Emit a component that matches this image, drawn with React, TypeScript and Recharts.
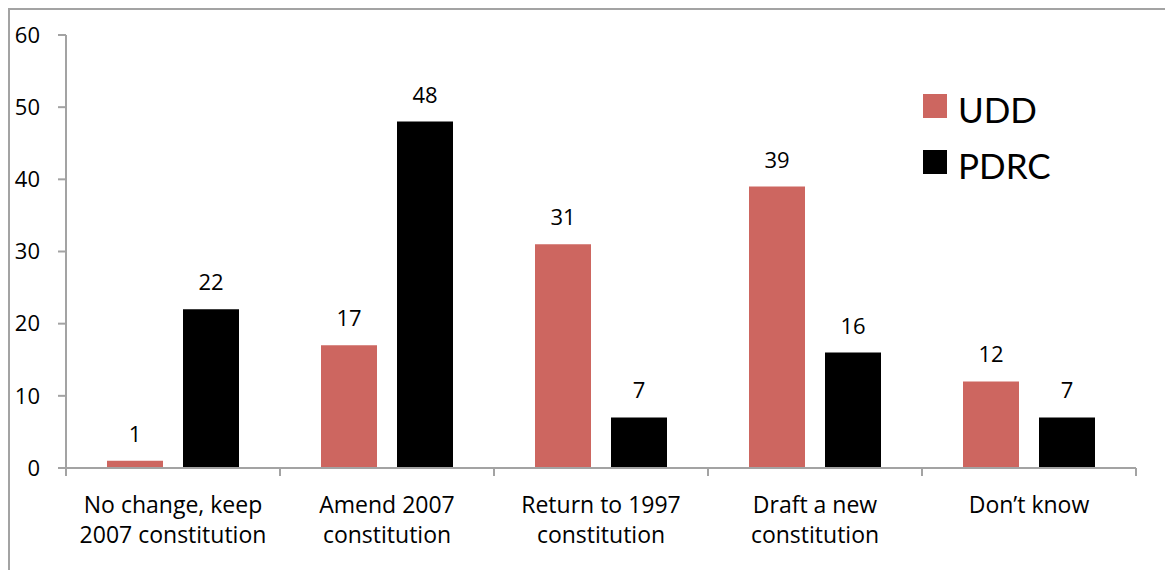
import { BarChart, Bar, XAxis, YAxis, LabelList } from 'recharts'

const categories = [
  'No change, keep\n2007 constitution',
  'Amend 2007\nconstitution',
  'Return to 1997\nconstitution',
  'Draft a new\nconstitution',
  'Don\u2019t know',
]
const udd = [1, 17, 31, 39, 12]
const pdrc = [22, 48, 7, 16, 7]
const yTicks = [0, 10, 20, 30, 40, 50, 60]

const data = categories.map((name, i) => ({ name, udd: udd[i], pdrc: pdrc[i] }))

const W = 1165
const H = 570
const X_H = 102
const Y_W = 66
const margin = { top: 35, right: 29, bottom: 0, left: 0 }
const PLOT_W = W - margin.left - margin.right - Y_W
const BAND = PLOT_W / categories.length
const AXIS = '#a3a3a3'
const FONT = '"Open Sans", "Noto Sans", sans-serif'
const RED = '#cd6660'

// tick y comes in below the axis by tickSize + tickMargin (6 + 2)
function CategoryTick(props: any) {
  const { x, y, payload, index } = props
  const axisY = y - 8
  const lines = String(payload.value).split('\n')
  const half = BAND / 2
  return (
    <g>
      <line x1={x - half} y1={axisY} x2={x - half} y2={axisY + 8} stroke={AXIS} strokeWidth={2} />
      {index === categories.length - 1 && (
        <line x1={x + half} y1={axisY} x2={x + half} y2={axisY + 8} stroke={AXIS} strokeWidth={2} />
      )}
      <text x={x} y={axisY + 45} textAnchor="middle" fill="#000" fontSize={23} fontFamily={FONT}>
        {lines.map((l, i) => (
          <tspan key={i} x={x} dy={i === 0 ? 0 : 30}>{l}</tspan>
        ))}
      </text>
    </g>
  )
}

export default function App() {
  return (
    <div style={{ position: 'absolute', left: 0, top: 0, width: W, height: H, background: '#fff' }}>
      <div style={{ position: 'absolute', left: 8, top: 8, right: 0, bottom: 0, borderLeft: `2px solid ${AXIS}`, borderTop: `2px solid ${AXIS}` }} />
      <BarChart width={W} height={H} data={data} margin={margin} barSize={56} barGap={20}>
        <XAxis
          dataKey="name"
          interval={0}
          tickLine={false}
          axisLine={{ stroke: AXIS, strokeWidth: 2 }}
          tick={<CategoryTick />}
          height={X_H}
        />
        <YAxis
          width={Y_W}
          domain={[0, 60]}
          ticks={yTicks}
          interval={0}
          tickSize={8}
          tickMargin={18}
          axisLine={{ stroke: AXIS, strokeWidth: 2 }}
          tickLine={{ stroke: AXIS, strokeWidth: 2 }}
          tick={{ fill: '#000', fontSize: 22, fontFamily: FONT }}
        />
        <Bar dataKey="udd" name="UDD" fill={RED} isAnimationActive={false}>
          <LabelList dataKey="udd" position="top" offset={19} fill="#000" fontSize={22} fontFamily={FONT} />
        </Bar>
        <Bar dataKey="pdrc" name="PDRC" fill="#000" isAnimationActive={false}>
          <LabelList dataKey="pdrc" position="top" offset={19} fill="#000" fontSize={22} fontFamily={FONT} />
        </Bar>
      </BarChart>
      <div style={{ position: 'absolute', left: 923, top: 78, fontFamily: 'Lato, sans-serif', fontSize: 35, color: '#000' }}>
        {[
          { label: 'UDD', color: RED },
          { label: 'PDRC', color: '#000' },
        ].map((it) => (
          <div key={it.label} style={{ display: 'flex', alignItems: 'center', height: 56 }}>
            <span style={{ width: 24, height: 24, background: it.color, marginRight: 11, display: 'inline-block' }} />
            <span style={{ position: 'relative', top: 3 }}>{it.label}</span>
          </div>
        ))}
      </div>
    </div>
  )
}
